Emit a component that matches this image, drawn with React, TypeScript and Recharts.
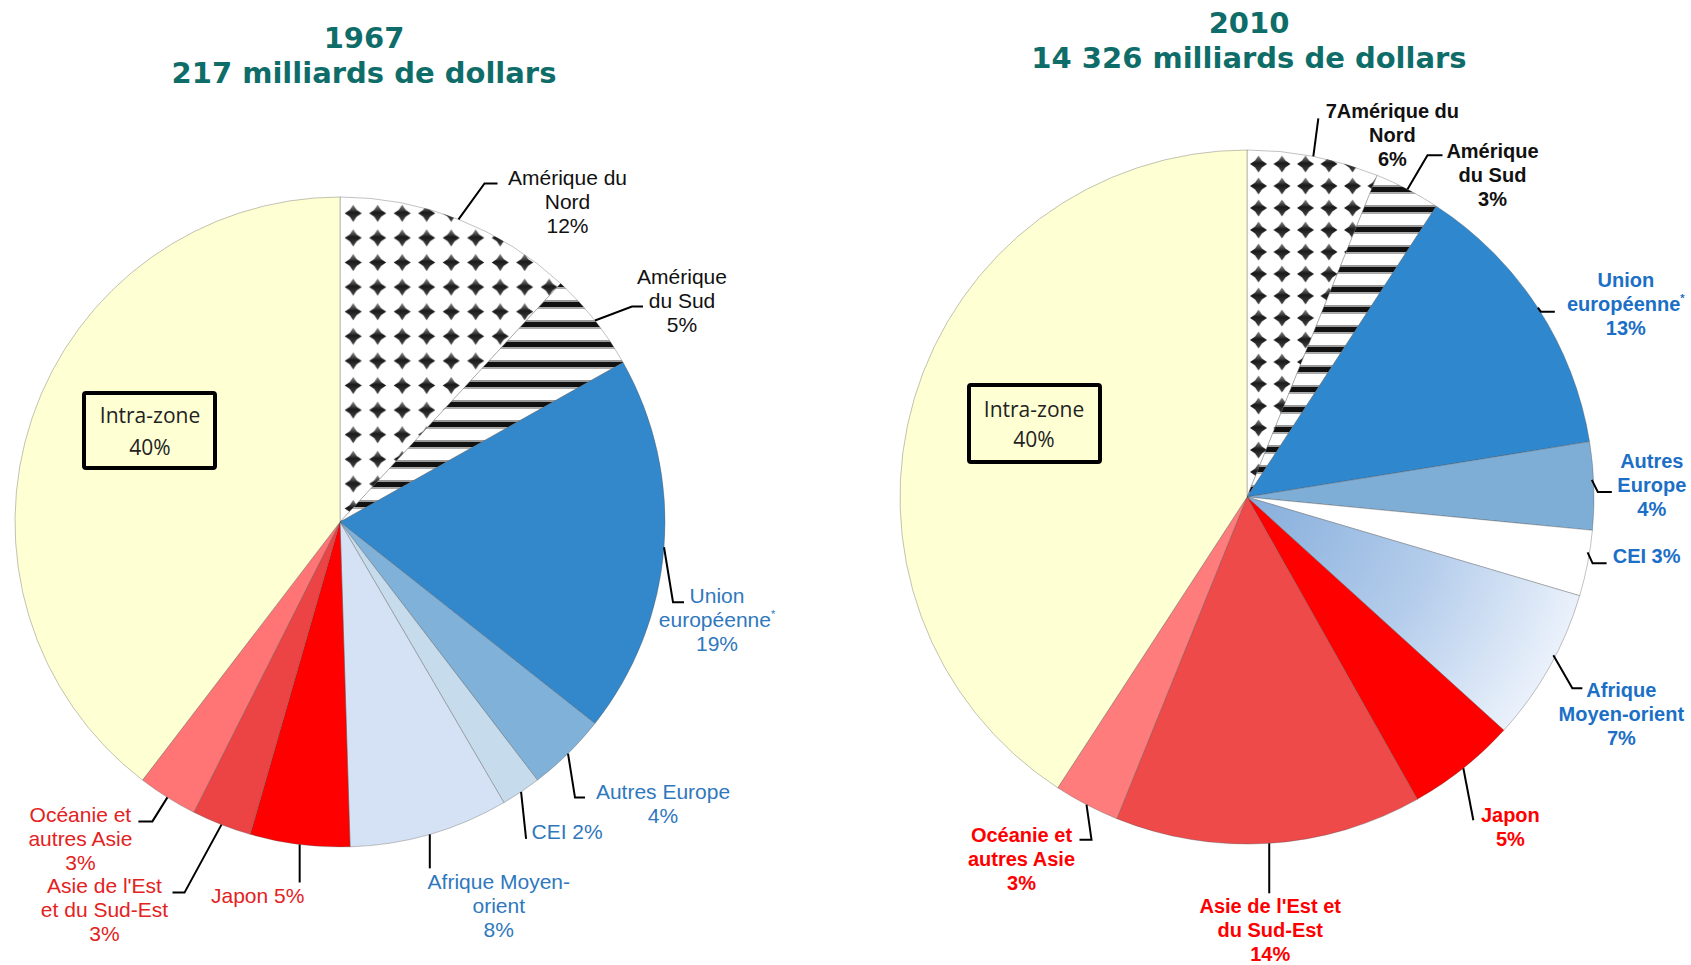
import React from 'react'
import { PieChart, Pie, Cell } from 'recharts'

const CHART_W = 1691
const CHART_H = 965

const regions = [
  'Amérique du Nord', 'Amérique du Sud', 'Union européenne', 'Autres Europe', 'CEI',
  'Afrique Moyen-orient', 'Japon', "Asie de l'Est et du Sud-Est", 'Océanie et autres Asie', 'Intra-zone'
]
const values1967 = [12, 5, 19, 4, 2, 8, 5, 3, 3, 40]
const values2010 = [6, 3, 13, 4, 3, 7, 5, 14, 3, 40]

const labels1967 = [
  ['Amérique du', 'Nord', '12%'], ['Amérique', 'du Sud', '5%'], ['Union', 'européenne*', '19%'],
  ['Autres Europe', '4%'], ['CEI 2%'], ['Afrique Moyen-', 'orient', '8%'], ['Japon 5%'],
  ["Asie de l'Est", 'et du Sud-Est', '3%'], ['Océanie et', 'autres Asie', '3%'], ['Intra-zone', '40%']
]
const labels2010 = [
  ['7Amérique du', 'Nord', '6%'], ['Amérique', 'du Sud', '3%'], ['Union', 'européenne*', '13%'],
  ['Autres', 'Europe', '4%'], ['CEI 3%'], ['Afrique', 'Moyen-orient', '7%'], ['Japon', '5%'],
  ["Asie de l'Est et", 'du Sud-Est', '14%'], ['Océanie et', 'autres Asie', '3%'], ['Intra-zone', '40%']
]

const titles1967 = ['1967', '217 milliards de dollars']
const titles2010 = ['2010', '14 326 milliards de dollars']

const data1967 = regions.map((name, i) => ({ name, value: values1967[i] }))
const data2010 = regions.map((name, i) => ({ name, value: values2010[i] }))

const TITLE_COLOR = '#0F6D69'
const INTRA_FILL = '#FFFFD4'

const fills1967 = [
  'url(#dots1967)', 'url(#stripes1967)', '#3388CC', '#80B1D9', '#C6DCEC',
  '#D5E1F4', '#FF0000', '#EC4444', '#FF7474', INTRA_FILL
]
const fills2010 = [
  'url(#dots2010)', 'url(#stripes2010)', '#2F87CE', '#7EAED6', '#FFFFFF',
  'url(#afr2010)', '#FF0000', '#EF4A4A', '#FF7C7C', INTRA_FILL
]

const BLUE67 = '#2F78BD'
const RED67 = '#E32222'
const BLUE10 = '#1C6FC6'
const RED10 = '#FF0000'

type Leader = { s?: [number, number]; e: [number, number]; tick: number; t: [number, number] } | null
type Box = { x: number; y: number; w: number; h: number; tx: number; ty: number[] }
type LabelStyle = { size: number; weight: string; gap: number; colors: string[] }

// leader geometry, relative to the point where the slice's mid angle meets the rim
const leaders1967: Leader[] = [
  { e: [26, -36], tick: 13, t: [70, 2] },
  { e: [37, -14], tick: 11, t: [39, -22] },
  { e: [9, 55], tick: 11, t: [33, 1] },
  { e: [7, 44], tick: 10, t: [78, 1] },
  { e: [5, 47], tick: 0, t: [41, 0] },
  { e: [0, 34], tick: 0, t: [69, 21] },
  { e: [0, 38], tick: 0, t: [-42, 21] },
  { e: [-37, 68], tick: -12, t: [-68, 0] },
  { e: [-15, 24], tick: -14, t: [-58, 1] },
  null
]
const leaders2010: Leader[] = [
  { e: [5, -38], tick: 0, t: [74, 0] },
  { e: [20, -34], tick: 15, t: [50, 3] },
  { e: [3, 4], tick: 14, t: [71, -25] },
  { s: [-2, -6], e: [4, 6], tick: 14, t: [40, -24] },
  { s: [0, -11], e: [5, 0], tick: 14, t: [40, 0] },
  { s: [4, -12], e: [23, 21], tick: 10, t: [39, 9] },
  { e: [10, 52], tick: 0, t: [37, 2] },
  { e: [0, 50], tick: 0, t: [1, 20] },
  { e: [5, 35], tick: -12, t: [-58, 2] },
  null
]

const box1967: Box = { x: -256, y: -129, w: 131, h: 75, tx: -190, ty: [-99, -67] }
const box2010: Box = { x: -278, y: -112, w: 131, h: 77, tx: -213, ty: [-80, -50] }

const style1967: LabelStyle = {
  size: 21, weight: 'normal', gap: 24,
  colors: ['#111', '#111', BLUE67, BLUE67, BLUE67, BLUE67, RED67, RED67, RED67, '#222']
}
const style2010: LabelStyle = {
  size: 20, weight: 'bold', gap: 24,
  colors: ['#111', '#111', BLUE10, BLUE10, BLUE10, BLUE10, RED10, RED10, RED10, '#222']
}

const LABEL_FONT = "'Liberation Sans', Arial, sans-serif"

function LabelLine({ text, x, y, color, style }: { text: string; x: number; y: number; color: string; style: LabelStyle }) {
  const star = text.endsWith('*')
  const body = star ? text.slice(0, -1) : text
  return (
    <text x={x} y={y} textAnchor="middle" fontFamily={LABEL_FONT} fontSize={style.size}
      fontWeight={style.weight} fill={color}>
      {body}
      {star && <tspan fontSize={11} dy={-9}>*</tspan>}
    </text>
  )
}

function makeLabel(lines: string[][], leaders: Leader[], box: Box, style: LabelStyle) {
  return (props: any) => {
    const { cx, cy, midAngle, outerRadius, index } = props
    const leader = leaders[index]
    if (!leader) {
      return (
        <g>
          <rect x={cx + box.x} y={cy + box.y} width={box.w} height={box.h} rx={2}
            fill={INTRA_FILL} stroke="#000" strokeWidth={4} />
          {lines[index].map((line, k) => (
            <text key={k} x={cx + box.tx} y={cy + box.ty[k]} textAnchor="middle"
              fontFamily="'Open Sans', sans-serif" fontSize={21} fill="#222">{line}</text>
          ))}
        </g>
      )
    }
    const rad = (-midAngle * Math.PI) / 180
    const bx = cx + outerRadius * Math.cos(rad)
    const by = cy + outerRadius * Math.sin(rad)
    const sx = bx + (leader.s ? leader.s[0] : 0)
    const sy = by + (leader.s ? leader.s[1] : 0)
    const ex = bx + leader.e[0]
    const ey = by + leader.e[1]
    const tx = ex + leader.tick
    const textX = tx + leader.t[0]
    const textY = ey + leader.t[1]
    return (
      <g>
        <polyline points={`${sx},${sy} ${ex},${ey} ${tx},${ey}`} fill="none" stroke="#000" strokeWidth={2} />
        {lines[index].map((line, k) => (
          <LabelLine key={k} text={line} x={textX} y={textY + k * style.gap}
            color={style.colors[index]} style={style} />
        ))}
      </g>
    )
  }
}

function Star({ cx, cy, r, grad }: { cx: number; cy: number; r: number; grad: string }) {
  const k = r * 0.4
  const d = `M${cx},${cy - r} L${cx + k},${cy - k} L${cx + r},${cy} L${cx + k},${cy + k} L${cx},${cy + r} L${cx - k},${cy + k} L${cx - r},${cy} L${cx - k},${cy - k} Z`
  return <path d={d} fill={`url(#${grad})`} />
}

export default function App() {
  return (
    <div style={{ position: 'absolute', left: 0, top: 0, width: CHART_W, height: CHART_H, background: '#fff' }}>
      <PieChart width={CHART_W} height={CHART_H} margin={{ top: 0, right: 0, bottom: 0, left: 0 }}>
        <defs>
          <linearGradient id="starGrad" x1="0" y1="0" x2="0" y2="1">
            <stop offset="0%" stopColor="#888" />
            <stop offset="45%" stopColor="#1a1a1a" />
            <stop offset="100%" stopColor="#444" />
          </linearGradient>
          <pattern id="dots1967" patternUnits="userSpaceOnUse" x={341} y={201} width={24.5} height={24.6}>
            <rect width={24.5} height={24.6} fill="#fff" />
            <Star cx={12.2} cy={12.3} r={8.5} grad="starGrad" />
          </pattern>
          <pattern id="dots2010" patternUnits="userSpaceOnUse" x={1247} y={153} width={23.5} height={22}>
            <rect width={23.5} height={22} fill="#fff" />
            <Star cx={11.5} cy={11} r={8.5} grad="starGrad" />
          </pattern>
          <pattern id="stripes1967" patternUnits="userSpaceOnUse" x={0} y={296} width={10} height={20}>
            <rect width={10} height={20} fill="#fff" />
            <rect y={4} width={10} height={2} fill="#999" />
            <rect y={6} width={10} height={5} fill="#111" />
            <rect y={11} width={10} height={2} fill="#aaa" />
          </pattern>
          <pattern id="stripes2010" patternUnits="userSpaceOnUse" x={0} y={201} width={10} height={20}>
            <rect width={10} height={20} fill="#fff" />
            <rect y={4} width={10} height={2} fill="#999" />
            <rect y={6} width={10} height={5} fill="#111" />
            <rect y={11} width={10} height={2} fill="#aaa" />
          </pattern>
          <radialGradient id="afr2010" gradientUnits="userSpaceOnUse" cx={1247} cy={497} r={347}>
            <stop offset="0%" stopColor="#86AEDB" />
            <stop offset="55%" stopColor="#B3CCEB" />
            <stop offset="100%" stopColor="#EAF1FB" />
          </radialGradient>
        </defs>
        <Pie
          data={data1967}
          dataKey="value"
          nameKey="name"
          cx={340}
          cy={522}
          outerRadius={325}
          startAngle={90}
          endAngle={-270}
          stroke="rgba(80,80,80,0.35)"
          strokeWidth={1}
          label={makeLabel(labels1967, leaders1967, box1967, style1967)}
          labelLine={false}
          isAnimationActive={false}
        >
          {data1967.map((d, i) => <Cell key={d.name} fill={fills1967[i]} />)}
        </Pie>
        <Pie
          data={data2010}
          dataKey="value"
          nameKey="name"
          cx={1247}
          cy={497}
          outerRadius={347}
          startAngle={90}
          endAngle={-270}
          stroke="rgba(80,80,80,0.35)"
          strokeWidth={1}
          label={makeLabel(labels2010, leaders2010, box2010, style2010)}
          labelLine={false}
          isAnimationActive={false}
        >
          {data2010.map((d, i) => <Cell key={d.name} fill={fills2010[i]} />)}
        </Pie>
      </PieChart>
      <svg width={CHART_W} height={CHART_H} style={{ position: 'absolute', left: 0, top: 0, pointerEvents: 'none' }}>
        <g fontFamily="'DejaVu Sans', Verdana, sans-serif" fontWeight="bold" fontSize={29} fill={TITLE_COLOR} textAnchor="middle">
          <text x={364} y={48}>{titles1967[0]}</text>
          <text x={364} y={83}>{titles1967[1]}</text>
          <text x={1249} y={33}>{titles2010[0]}</text>
          <text x={1249} y={68}>{titles2010[1]}</text>
        </g>
      </svg>
    </div>
  )
}
